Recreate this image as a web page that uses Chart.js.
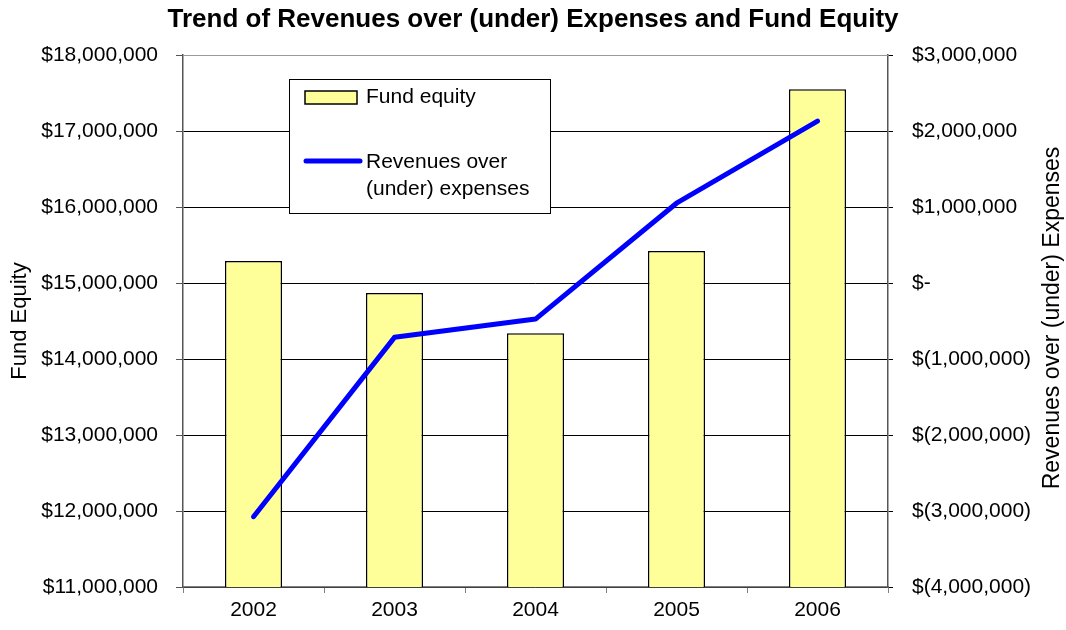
<!DOCTYPE html>
<html>
<head>
<meta charset="utf-8">
<title>Trend of Revenues over (under) Expenses and Fund Equity</title>
<script src="https://cdn.jsdelivr.net/npm/chart.js@4/dist/chart.umd.min.js"></script>
<style>
  html, body { margin: 0; padding: 0; background: #fff; }
  #wrap { width: 1066px; height: 630px; position: relative; }
</style>
</head>
<body>
<div id="wrap"><canvas id="trendChart"></canvas></div>
<script>
var years = ["2002", "2003", "2004", "2005", "2006"];
var fundEquity = [15290000, 14870000, 14340000, 15420000, 17550000];
var revenuesOverExpenses = [-3075000, -715000, -475000, 1050000, 2130000];

var FONT = "'Liberation Sans', Arial, sans-serif";

function dollars(v) {
  if (v === 0) return "$-";
  var s = Math.abs(v).toLocaleString("en-US");
  return v < 0 ? "$(" + s + ")" : "$" + s;
}

// legend box inside the plot, plus the top border and the right axis title
var extras = {
  id: "extras",
  afterDraw: function (chart) {
    var ctx = chart.ctx;
    var a = chart.chartArea;
    ctx.save();

    // top edge of plot area
    ctx.strokeStyle = "#999";
    ctx.lineWidth = 1;
    ctx.beginPath();
    ctx.moveTo(a.left, a.top + 0.5);
    ctx.lineTo(a.right, a.top + 0.5);
    ctx.stroke();

    // right axis title, reads bottom to top
    ctx.fillStyle = "#000";
    ctx.font = "23px " + FONT;
    ctx.textAlign = "center";
    ctx.textBaseline = "middle";
    ctx.translate(1053, (a.top + a.bottom) / 2 - 3);
    ctx.rotate(-Math.PI / 2);
    ctx.fillText("Revenues over (under) Expenses", 0, 0);
    ctx.restore();

    // legend
    ctx.save();
    var lx = a.left + 106, ly = a.top + 24;
    ctx.fillStyle = "#fff";
    ctx.fillRect(lx, ly, 261, 134);
    ctx.strokeStyle = "#000";
    ctx.lineWidth = 1;
    ctx.strokeRect(lx + 0.5, ly + 0.5, 261, 134);

    var bar = chart.data.datasets[1];
    ctx.fillStyle = bar.backgroundColor;
    ctx.fillRect(lx + 16, ly + 12, 52, 13);
    ctx.lineWidth = 1.5;
    ctx.strokeStyle = bar.borderColor;
    ctx.strokeRect(lx + 16, ly + 12, 52, 13);

    var line = chart.data.datasets[0];
    ctx.strokeStyle = line.borderColor;
    ctx.lineWidth = 5;
    ctx.lineCap = "round";
    ctx.beginPath();
    ctx.moveTo(lx + 17, ly + 82);
    ctx.lineTo(lx + 71, ly + 82);
    ctx.stroke();

    ctx.fillStyle = "#000";
    ctx.font = "21px " + FONT;
    ctx.textAlign = "left";
    ctx.textBaseline = "middle";
    ctx.fillText(bar.label, lx + 77, ly + 18);
    ctx.fillText("Revenues over", lx + 77, ly + 83);
    ctx.fillText("(under) expenses", lx + 77, ly + 110);
    ctx.restore();
  }
};

var trendChart = new Chart(document.getElementById("trendChart"), {
  type: "bar",
  data: {
    labels: years,
    datasets: [
      {
        type: "line",
        label: "Revenues over (under) expenses",
        data: revenuesOverExpenses,
        yAxisID: "yRev",
        borderColor: "#0000FF",
        borderWidth: 5,
        borderCapStyle: "round",
        borderJoinStyle: "round",
        pointRadius: 0,
        tension: 0,
        fill: false,
        order: 0
      },
      {
        label: "Fund equity",
        data: fundEquity,
        yAxisID: "yFund",
        backgroundColor: "#FFFF99",
        borderColor: "#000",
        borderWidth: 1.5,
        borderSkipped: false,
        categoryPercentage: 1,
        barPercentage: 0.405,
        order: 1
      }
    ]
  },
  options: {
    responsive: true,
    maintainAspectRatio: false,
    animation: false,
    layout: { padding: 0 },
    plugins: {
      legend: { display: false },
      tooltip: { enabled: false },
      title: {
        display: true,
        text: "Trend of Revenues over (under) Expenses and Fund Equity",
        color: "#000",
        font: { family: FONT, size: 26, weight: "bold" },
        padding: { top: 4.4, bottom: 19.4 }
      }
    },
    scales: {
      x: {
        offset: true,
        grid: {
          offset: true,
          drawOnChartArea: false,
          tickLength: 6,
          color: "#808080"
        },
        border: { color: "#808080", width: 1.5 },
        ticks: {
          color: "#000",
          padding: 5,
          font: { family: FONT, size: 21 }
        },
        afterFit: function (s) { s.height = 43; }
      },
      yFund: {
        position: "left",
        min: 11000000,
        max: 18000000,
        ticks: {
          stepSize: 1000000,
          color: "#000",
          padding: 18,
          font: { family: FONT, size: 21 },
          callback: function (v) { return dollars(v); }
        },
        grid: {
          color: function (c) { return c.tick && c.tick.value === 18000000 ? "#999" : "#000"; },
          lineWidth: 1,
          tickLength: 7,
          tickColor: "#555"
        },
        border: { color: "#555", width: 1.5 },
        title: {
          display: true,
          text: "Fund Equity",
          color: "#000",
          font: { family: FONT, size: 22 },
          padding: { top: 7, bottom: 0 }
        },
        afterFit: function (s) { s.width = 183; }
      },
      yRev: {
        position: "right",
        min: -4000000,
        max: 3000000,
        ticks: {
          stepSize: 1000000,
          color: "#000",
          padding: 19,
          font: { family: FONT, size: 21 },
          callback: function (v) { return dollars(v); }
        },
        grid: {
          drawOnChartArea: false,
          tickLength: 5,
          tickColor: "#000"
        },
        border: { color: "#555", width: 1.5 },
        afterFit: function (s) { s.width = 178; }
      }
    }
  },
  plugins: [extras]
});
</script>
</body>
</html>
